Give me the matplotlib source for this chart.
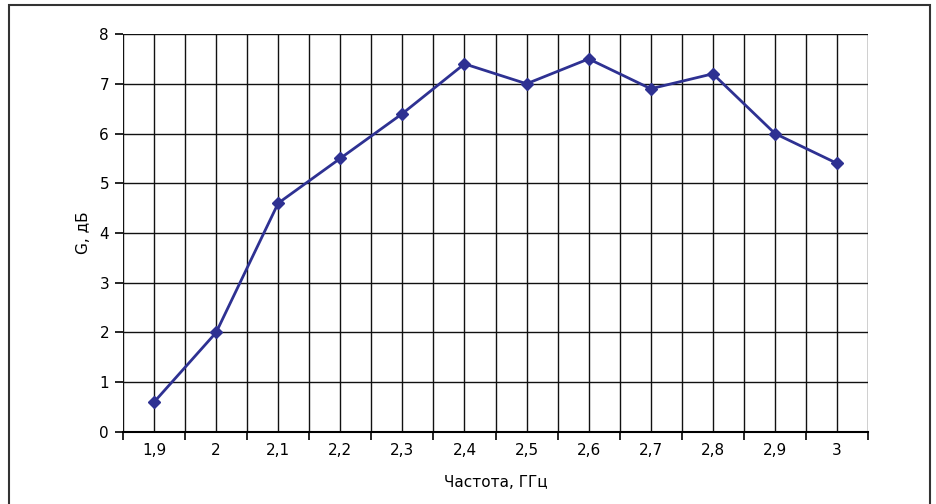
import numpy as np
import matplotlib.pyplot as plt
from matplotlib.patches import Rectangle

freq_labels = ['1,9', '2', '2,1', '2,2', '2,3', '2,4', '2,5', '2,6', '2,7', '2,8', '2,9', '3']
gain = [0.6, 2.0, 4.6, 5.5, 6.4, 7.4, 7.0, 7.5, 6.9, 7.2, 6.0, 5.4]

plt.rcParams['font.family'] = ['DejaVu Sans']

fig = plt.figure(figsize=(9.36, 5.04), dpi=100)
ax = fig.add_axes([0.1314, 0.1429, 0.7960, 0.7896])

x = np.arange(len(gain))
ax.plot(x, gain, color='#2E3192', lw=2, marker='D', ms=6, zorder=3)

ax.set_xlim(-0.5, len(gain) - 0.5)
ax.set_ylim(0, 8)
ax.set_yticks(range(0, 9))

# vertical grid at category centres and boundaries
for gx in np.arange(-0.5, len(gain), 0.5):
    ax.axvline(gx, color='#111111', lw=1.0, zorder=1)
ax.yaxis.grid(True, color='#111111', lw=1.0)
ax.set_axisbelow(True)

ax.set_xticks(np.arange(-0.5, len(gain), 1.0))
ax.set_xticklabels([])
ax.set_xticks(x, minor=True)
ax.set_xticklabels(freq_labels, minor=True)
ax.tick_params(axis='x', which='major', length=6, width=1.2, direction='out')
ax.tick_params(axis='x', which='minor', length=0, pad=8, labelsize=11)
ax.tick_params(axis='y', length=6, width=1.2, labelsize=11, pad=4)

for s in ax.spines.values():
    s.set_visible(False)
ax.spines['bottom'].set_visible(True)
ax.spines['bottom'].set_linewidth(1.5)

ax.set_xlabel('Частота, ГГц', fontsize=11, labelpad=12)
ax.set_ylabel('G, дБ', fontsize=11, labelpad=6)

# outer frame
fig.patches.append(Rectangle((9 / 936, -0.05), (930 - 9) / 936, 1.05 - 5 / 504,
                             transform=fig.transFigure, fill=False,
                             edgecolor='#333333', lw=1.5))

fig.savefig('out.png', dpi=100)
